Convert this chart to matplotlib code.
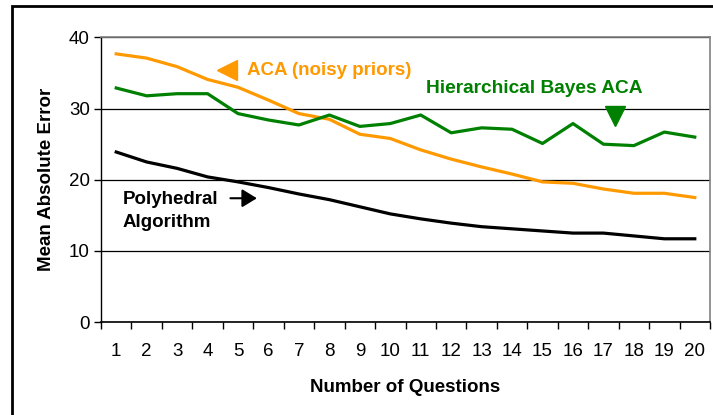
import numpy as np
import matplotlib
matplotlib.use("Agg")
import matplotlib.pyplot as plt
from matplotlib.patches import Rectangle

plt.rcParams['font.family'] = ['Liberation Sans', 'DejaVu Sans']

questions = list(range(1, 21))
aca_noisy = [37.7, 37.1, 35.9, 34.1, 33.0, 31.2, 29.3, 28.5, 26.4, 25.8,
             24.2, 22.9, 21.8, 20.8, 19.7, 19.5, 18.7, 18.1, 18.1, 17.5]
hb_aca = [32.9, 31.8, 32.1, 32.1, 29.3, 28.4, 27.7, 29.1, 27.5, 27.9,
          29.1, 26.6, 27.3, 27.1, 25.1, 27.9, 25.0, 24.8, 26.7, 26.0]
polyhedral = [23.9, 22.5, 21.6, 20.4, 19.7, 18.9, 18.0, 17.2, 16.2, 15.2,
              14.5, 13.9, 13.4, 13.1, 12.8, 12.5, 12.5, 12.1, 11.7, 11.7]

orange = '#FF9900'
green = '#008000'

fig = plt.figure(figsize=(7.13, 4.15), dpi=100)
# outer frame around the chart
fig.patches.append(Rectangle((12 / 713, -0.1), 1.2, (415 - 6) / 415 + 0.1,
                             transform=fig.transFigure, fill=False,
                             edgecolor='black', linewidth=2))
ax = fig.add_axes([101 / 713, (415 - 322) / 415, 609 / 713, 284.5 / 415])

x = np.arange(len(questions))
ax.plot(x, aca_noisy, color=orange, lw=2.3)
ax.plot(x, hb_aca, color=green, lw=2.3)
ax.plot(x, polyhedral, color='black', lw=2.3)

ax.set_xlim(-0.5, 19.5)
ax.set_ylim(0, 40)
ax.set_yticks([0, 10, 20, 30, 40])
ax.set_xticks(x)
ax.set_xticklabels([str(q) for q in questions], fontsize=13.5)
ax.set_xticks(np.arange(-0.5, 20, 1), minor=True)
ax.tick_params(axis='x', which='major', length=0, pad=15)
ax.tick_params(axis='x', which='minor', length=5, width=1, color='black')
ax.tick_params(axis='y', length=5, width=1, labelsize=13.5, pad=3)
ax.yaxis.grid(True, color='black', lw=0.9)
ax.set_axisbelow(True)

for s in ['top', 'right']:
    ax.spines[s].set_color('#808080')
    ax.spines[s].set_linewidth(1.2)
ax.spines['left'].set_linewidth(1)
ax.spines['bottom'].set_linewidth(1.2)

ax.set_xlabel('Number of Questions', fontsize=13.5, fontweight='bold', labelpad=14)
ax.set_ylabel('Mean Absolute Error', fontsize=13.5, fontweight='bold', labelpad=10)

# annotations
ax.text(4.29, 35.4, 'ACA (noisy priors)', color=orange, fontsize=13.5,
        fontweight='bold', va='center', ha='left')
ax.plot([3.65], [35.4], marker='<', color=orange, markersize=14, ls='none')

ax.text(10.17, 32.8, 'Hierarchical Bayes ACA', color=green, fontsize=13.8,
        fontweight='bold', va='center', ha='left')
ax.plot([16.38], [29.0], marker='v', color=green, markersize=14, ls='none')

ax.text(0.22, 15.6, 'Polyhedral\nAlgorithm', color='black', fontsize=13.5,
        fontweight='bold', va='center', ha='left', linespacing=1.45)
ax.annotate('', xy=(4.62, 17.4), xytext=(3.75, 17.4),
            arrowprops=dict(arrowstyle='-|>,head_length=0.9,head_width=0.55',
                            color='black', lw=1.5, shrinkA=0, shrinkB=0))

fig.savefig('out.png', dpi=100)
